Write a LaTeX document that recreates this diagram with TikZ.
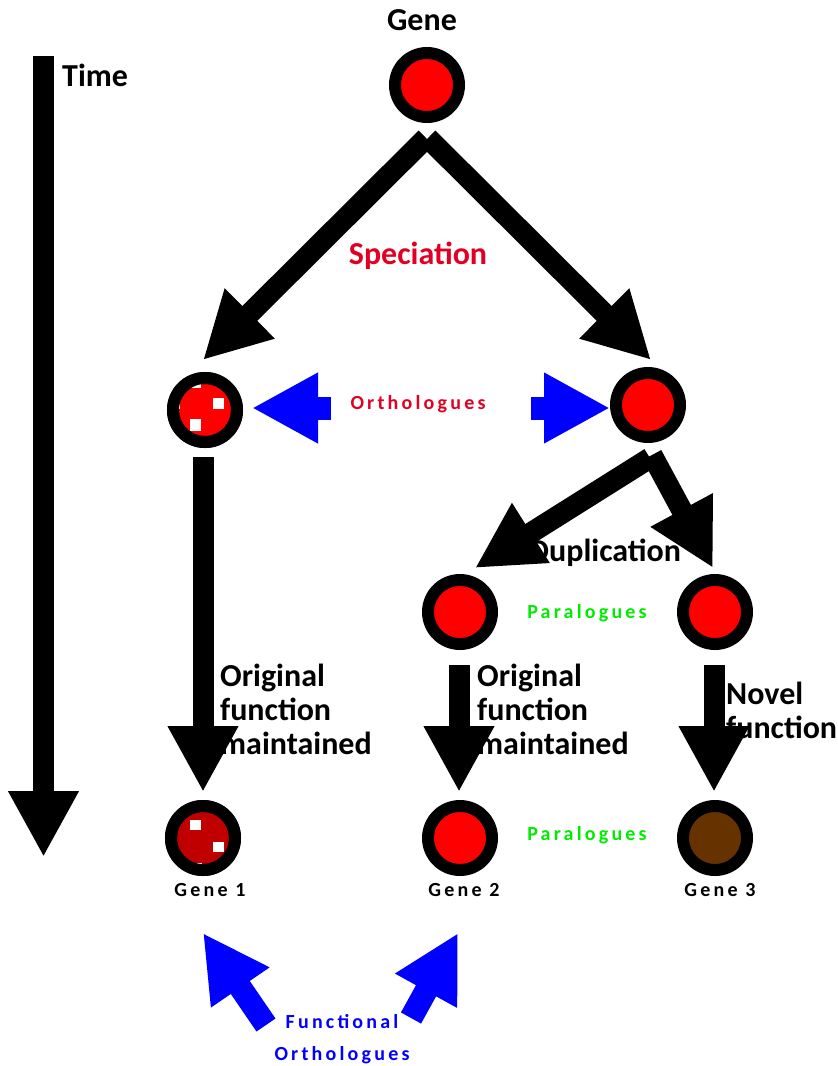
\documentclass[tikz,border=0pt]{standalone}
\usepackage{fontspec}
\setmainfont{Carlito}
\newfontfamily\spaced[LetterSpace=16]{Carlito}
\usetikzlibrary{arrows.meta}
\definecolor{gred}{RGB}{255,0,0}
\definecolor{gdark}{RGB}{192,0,0}
\definecolor{gbrown}{RGB}{102,51,0}
\definecolor{tred}{RGB}{225,0,35}
\definecolor{tgreen}{RGB}{0,235,0}
\definecolor{tblue}{RGB}{0,0,255}
\tikzset{
  gene/.style={circle, draw=black, line width=12pt, minimum size=64pt, inner sep=0pt, fill=gred},
  big/.style={draw=black, line width=21pt, -{Triangle[length=66pt,width=66pt]}},
  blu/.style={draw=tblue, line width=23pt, -{Triangle[length=66pt,width=66pt]}},
  bigtxt/.style={font=\bfseries\fontsize{32}{34}\selectfont, align=left, inner sep=0pt},
  smalltxt/.style={font=\spaced\bfseries\fontsize{20}{22}\selectfont, inner sep=0pt},
  ring/.style={draw=black, line width=12pt}
}
\begin{document}
\begin{tikzpicture}[x=1pt,y=-1pt]
\useasboundingbox (0,0) rectangle (838,1066);

% gene nodes
\node[gene] (g0) at (427,85) {};
\node[gene] (gL) at (205,410) {};
\node[gene] (gR) at (648,405) {};
\node[gene] (gP1) at (460,612) {};
\node[gene] (gP2) at (715,612) {};
\node[gene, fill=gdark] (g1) at (203,838) {};
\node[gene] (g2) at (460,838) {};
\node[gene, fill=gbrown] (g3) at (715,838) {};

% white squares
\begin{scope}[shift={(gL.center)}]
  \fill[white] (-14,-32) rectangle (-4,-22);
  \fill[white] (8,-12) rectangle (19,-1);
  \fill[white] (-15,9) rectangle (-4,21);
  \fill[white] (-35,-11) rectangle (-25,-1);
\end{scope}
\draw[ring] (gL.center) circle[radius=32pt];
\begin{scope}[shift={(g1.center)}]
  \fill[white] (-13,-18) rectangle (-2,-8);
  \fill[white] (10,4) rectangle (21,14);
  \fill[white] (-11,25) rectangle (-1,36);
\end{scope}
\draw[ring] (g1.center) circle[radius=32pt];

% coordinates for arrows
\coordinate (t0) at (43.5,56);   \coordinate (t1) at (43.5,857);
\coordinate (sL0) at (426,138);  \coordinate (sL1) at (203,360);
\coordinate (sR0) at (428,138);  \coordinate (sR1) at (651,360);
\coordinate (dL0) at (650,458);  \coordinate (dL1) at (475,568);
\coordinate (dR0) at (652,455);  \coordinate (dR1) at (713,568);
\coordinate (vL0) at (203,457);  \coordinate (vL1) at (203,792);
\coordinate (vM0) at (459,665);  \coordinate (vM1) at (459,792);
\coordinate (vR0) at (714,665);  \coordinate (vR1) at (714,792);
\coordinate (oL0) at (331,408);  \coordinate (oL1) at (252,408);
\coordinate (oR0) at (531,408);  \coordinate (oR1) at (610,408);
\coordinate (fL0) at (266,1025); \coordinate (fL1) at (203,933);
\coordinate (fR0) at (411,1018); \coordinate (fR1) at (458,933);

\draw[big] (t0) -- (t1);
\draw[big] (sL0) -- (sL1);
\draw[big] (sR0) -- (sR1);
\draw[big] (dL0) -- (dL1);
\draw[big] (dR0) -- (dR1);
\draw[big] (vL0) -- (vL1);
\draw[big] (vM0) -- (vM1);
\draw[big] (vR0) -- (vR1);
\draw[blu] (oL0) -- (oL1);
\draw[blu] (oR0) -- (oR1);
\draw[blu] (fL0) -- (fL1);
\draw[blu] (fR0) -- (fR1);

% texts
\node[bigtxt] (tgene) at (422,20) {Gene};
\node[bigtxt, anchor=west] (ttime) at (62,75) {Time};
\node[bigtxt, text=tred] (tspec) at (418,256) {Speciation};
\node[bigtxt] (tdup) at (605,553) {Duplication};
\node[smalltxt, text=tred] (torth) at (418,404) {Orthologues};
\node[smalltxt, text=tgreen] (tpar1) at (587,613) {Paralogues};
\node[smalltxt, text=tgreen] (tpar2) at (587,835) {Paralogues};
\node[bigtxt, anchor=west] (tof1) at (220,709) {Original\\function\\maintained};
\node[bigtxt, anchor=west] (tof2) at (477,709) {Original\\function\\maintained};
\node[bigtxt, anchor=west] (tnov) at (726,710) {Novel\\function};
\node[smalltxt] (lg1) at (210,890) {Gene 1};
\node[smalltxt] (lg2) at (464,890) {Gene 2};
\node[smalltxt] (lg3) at (720,890) {Gene 3};
\node[smalltxt, text=tblue] (tfun) at (342,1022) {Functional};
\node[smalltxt, text=tblue] (tfo) at (342,1055) {Orthologues};
\end{tikzpicture}
\end{document}
